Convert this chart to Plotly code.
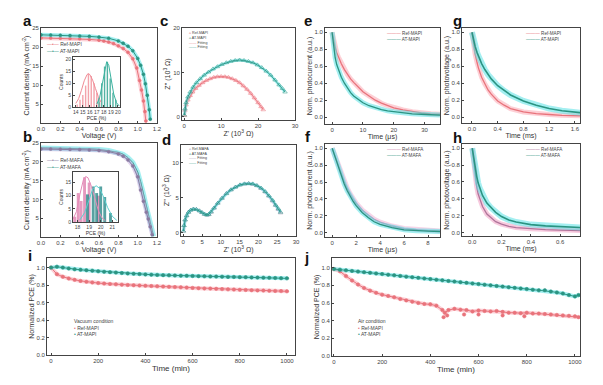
import plotly.graph_objects as go

W, H = 603, 385
def fx(p): return p / W
def fy(p): return 1 - p / H

# ---------------- data ----------------
# (a) J-V MAPI
a_ref_v = [0, 0.1, 0.2, 0.3, 0.4, 0.5, 0.6, 0.65, 0.7, 0.75, 0.8, 0.85, 0.9, 0.95, 0.99, 1.02, 1.04, 1.06, 1.075, 1.085]
a_ref_j = [22.4, 22.35, 22.3, 22.25, 22.15, 22.0, 21.8, 21.6, 21.3, 20.9, 20.3, 19.6, 18.6, 16.9, 14.5, 11.2, 8.7, 5.8, 3.0, 0.5]
a_at_v = [0, 0.1, 0.2, 0.3, 0.4, 0.5, 0.6, 0.7, 0.8, 0.85, 0.9, 0.95, 1.0, 1.03, 1.06, 1.08, 1.1, 1.12, 1.13]
a_at_j = [23.2, 23.15, 23.1, 23.0, 22.9, 22.8, 22.6, 22.3, 21.6, 21.0, 20.2, 19.0, 17.0, 15.2, 12.8, 10.3, 7.3, 3.5, 1.0]
# inset a histogram
ia_ref_x = [14.2, 14.6, 15.0, 15.4, 15.8, 16.2, 16.6, 17.0, 17.4]
ia_ref_n = [1, 3, 5, 9, 14, 13, 10, 6, 2]
ia_at_x = [17.3, 17.7, 18.1, 18.5, 18.9, 19.3, 19.7]
ia_at_n = [4, 10, 17, 19, 12, 6, 3]
ia_ref_fx = [14.0, 14.4, 14.8, 15.2, 15.6, 15.8, 16.0, 16.4, 16.8, 17.2, 17.6]
ia_ref_fy = [1.5, 3.5, 7.0, 11.0, 13.6, 14.0, 13.6, 11.3, 7.8, 4.4, 2.0]
ia_at_fx = [17.0, 17.4, 17.8, 18.1, 18.4, 18.7, 19.0, 19.4, 19.8, 20.2]
ia_at_fy = [1.2, 4.0, 10.0, 15.5, 19.0, 17.5, 12.5, 5.5, 1.8, 0.4]

# (b) J-V MAFA
b_v = [0, 0.1, 0.2, 0.3, 0.4, 0.5, 0.6, 0.7, 0.8, 0.85, 0.9, 0.95, 1.0, 1.03, 1.06, 1.09, 1.11, 1.13, 1.15]
b_ref_j = [23.4, 23.38, 23.35, 23.3, 23.25, 23.15, 23.0, 22.7, 22.1, 21.5, 20.5, 18.9, 16.0, 12.5, 9.5, 6.6, 4.8, 2.7, 0.6]
b_at_v = [0, 0.1, 0.2, 0.3, 0.4, 0.5, 0.6, 0.7, 0.8, 0.85, 0.9, 0.95, 1.0, 1.03, 1.06, 1.09, 1.11, 1.13, 1.15, 1.165]
b_at_j = [23.7, 23.68, 23.65, 23.6, 23.55, 23.45, 23.3, 23.0, 22.5, 22.0, 21.1, 19.8, 17.3, 14.8, 11.5, 8.0, 5.6, 3.4, 1.3, 0.2]
ib_ref_x = [17.75, 18.05, 18.3, 18.6, 19.0, 19.8]
ib_ref_n = [2, 11, 8, 17, 15, 10]
ib_at_x = [18.85, 19.35, 19.65, 20.0, 20.35, 20.85]
ib_at_n = [10.5, 13.5, 11, 13.5, 9.5, 3.4]
ib_ref_fx = [17.6, 17.9, 18.2, 18.5, 18.7, 18.9, 19.2, 19.5, 19.8, 20.1, 20.4]
ib_ref_fy = [1.0, 4.0, 10.5, 16.0, 17.3, 16.8, 13.5, 8.5, 4.3, 1.6, 0.5]
ib_at_fx = [18.2, 18.6, 19.0, 19.3, 19.6, 19.9, 20.2, 20.6, 21.0, 21.4]
ib_at_fy = [0.8, 3.5, 8.5, 12.5, 13.8, 12.8, 10.0, 5.5, 2.2, 0.6]

# (c) Nyquist MAPI
c_ref_x = [0.05, 0.2, 0.5, 1.0, 1.6, 2.3, 3.1, 4.0, 5.0, 6.0, 7.0, 8.0, 9.0, 10.0, 11.0, 12.0, 13.0, 14.0, 15.0, 16.0, 17.0, 18.0, 19.0, 20.0, 20.8, 21.4]
c_ref_y = [0.3, 1.5, 2.7, 3.8, 4.8, 5.6, 6.4, 7.1, 7.7, 8.2, 8.6, 8.9, 9.05, 9.1, 9.05, 8.9, 8.6, 8.2, 7.7, 7.0, 6.2, 5.3, 4.3, 3.2, 2.3, 1.6]
c_at_x = [0.05, 0.2, 0.5, 1.0, 1.6, 2.4, 3.3, 4.3, 5.4, 6.6, 7.8, 9.0, 10.2, 11.4, 12.6, 13.8, 15.0, 16.2, 17.4, 18.6, 19.8, 21.0, 22.2, 23.4, 24.6, 25.7, 26.6, 27.3]
c_at_y = [0.4, 1.8, 3.2, 4.5, 5.6, 6.7, 7.7, 8.6, 9.4, 10.1, 10.8, 11.3, 11.8, 12.2, 12.5, 12.7, 12.8, 12.7, 12.5, 12.2, 11.7, 11.1, 10.3, 9.4, 8.3, 7.2, 6.4, 5.6]

# (d) Nyquist MAFA
d_x = [0.05, 0.2, 0.5, 0.9, 1.4, 2.0, 2.7, 3.5, 4.3, 5.0, 5.7, 6.3, 6.8, 7.4, 8.2, 9.2, 10.3, 11.5, 12.7, 13.9, 15.1, 16.3, 17.4, 18.5, 19.6, 20.7, 21.8, 22.8, 23.8, 24.6, 25.3, 25.9]
d_ref_y = [0.2, 1.0, 1.8, 2.4, 2.9, 3.2, 3.35, 3.3, 3.1, 2.85, 2.6, 2.5, 2.55, 2.9, 3.5, 4.2, 4.9, 5.6, 6.1, 6.5, 6.8, 6.95, 7.0, 6.9, 6.7, 6.3, 5.8, 5.2, 4.5, 3.9, 3.3, 2.8]
d_at_y = [0.2, 1.0, 1.8, 2.4, 2.9, 3.2, 3.35, 3.3, 3.1, 2.85, 2.6, 2.5, 2.6, 2.95, 3.5, 4.2, 4.9, 5.55, 6.1, 6.5, 6.8, 6.95, 7.0, 6.95, 6.7, 6.35, 5.85, 5.25, 4.6, 3.9, 3.4, 2.9]

# (e) TPC MAPI
e_t = [0, 0.5, 1, 1.5, 2, 3, 4, 5, 6, 7, 8, 10, 12, 14, 16, 18, 20, 23, 26, 29, 32, 35]
e_ref = [1.0, 0.9, 0.82, 0.76, 0.71, 0.63, 0.56, 0.5, 0.45, 0.41, 0.37, 0.3, 0.25, 0.2, 0.165, 0.135, 0.11, 0.085, 0.065, 0.05, 0.04, 0.035]
e_at = [1.0, 0.82, 0.7, 0.62, 0.56, 0.47, 0.4, 0.34, 0.29, 0.25, 0.22, 0.17, 0.135, 0.11, 0.09, 0.075, 0.065, 0.05, 0.04, 0.035, 0.03, 0.025]

# (f) TPC MAFA
f_t = [0, 0.25, 0.5, 0.75, 1.0, 1.25, 1.5, 1.75, 2.0, 2.5, 3.0, 3.5, 4.0, 4.5, 5, 6, 7, 8, 9]
f_ref = [1.0, 0.9, 0.8, 0.7, 0.61, 0.53, 0.46, 0.4, 0.35, 0.27, 0.21, 0.16, 0.125, 0.1, 0.08, 0.05, 0.035, 0.025, 0.02]
f_at = [1.0, 0.89, 0.78, 0.68, 0.58, 0.5, 0.43, 0.37, 0.32, 0.24, 0.18, 0.13, 0.1, 0.08, 0.06, 0.035, 0.025, 0.02, 0.015]

# (g) TPV MAPI
g_t = [0, 0.02, 0.05, 0.08, 0.1, 0.15, 0.2, 0.25, 0.3, 0.4, 0.5, 0.6, 0.8, 1.0, 1.2, 1.4, 1.7]
g_ref = [1.0, 0.88, 0.74, 0.64, 0.58, 0.47, 0.39, 0.32, 0.27, 0.19, 0.14, 0.1, 0.06, 0.04, 0.03, 0.02, 0.015]
g_at = [1.0, 0.92, 0.83, 0.76, 0.72, 0.63, 0.56, 0.5, 0.45, 0.37, 0.31, 0.26, 0.19, 0.14, 0.1, 0.075, 0.05]

# (h) TPV MAFA
h_t = [0, 0.01, 0.02, 0.03, 0.04, 0.05, 0.07, 0.1, 0.13, 0.16, 0.2, 0.25, 0.3, 0.4, 0.5, 0.6, 0.74]
h_ref = [1.0, 0.82, 0.66, 0.55, 0.46, 0.4, 0.31, 0.22, 0.17, 0.13, 0.1, 0.075, 0.06, 0.045, 0.035, 0.03, 0.025]
h_at = [1.0, 0.87, 0.76, 0.67, 0.59, 0.53, 0.44, 0.35, 0.29, 0.24, 0.19, 0.15, 0.125, 0.095, 0.08, 0.07, 0.06]

# (i) stability, vacuum
ij_t = [0, 25, 50, 75, 100, 125, 150, 175, 200, 225, 250, 275, 300, 325, 350, 375, 400, 425, 450, 475, 500,
        525, 550, 575, 600, 625, 650, 675, 700, 725, 750, 775, 800, 825, 850, 875, 900, 925, 950, 975, 1000]
i_at = [1.0, 1.01, 1.0, 0.99, 0.98, 0.975, 0.97, 0.965, 0.958, 0.952, 0.948, 0.943, 0.938, 0.934, 0.93, 0.926, 0.922, 0.919, 0.916, 0.914, 0.912,
        0.91, 0.908, 0.906, 0.904, 0.902, 0.9, 0.898, 0.897, 0.896, 0.894, 0.893, 0.891, 0.89, 0.888, 0.886, 0.885, 0.883, 0.881, 0.879, 0.877]
i_ref = [1.0, 0.925, 0.895, 0.875, 0.86, 0.848, 0.838, 0.83, 0.823, 0.818, 0.813, 0.809, 0.805, 0.801, 0.798, 0.795, 0.792, 0.789, 0.786, 0.783, 0.78,
         0.777, 0.774, 0.771, 0.768, 0.765, 0.762, 0.76, 0.757, 0.754, 0.751, 0.749, 0.746, 0.744, 0.741, 0.739, 0.737, 0.735, 0.733, 0.731, 0.729]

# (j) stability, air
j_t = [0, 25, 50, 75, 100, 125, 150, 175, 200, 225, 250, 275, 300, 325, 350, 375, 400, 425, 450, 460, 475, 500,
       525, 550, 575, 600, 625, 650, 675, 700, 725, 750, 775, 800, 825, 850, 875, 900, 925, 950, 975, 1000, 1015]
j_ref = [0.985, 0.96, 0.905, 0.855, 0.81, 0.77, 0.74, 0.715, 0.695, 0.68, 0.665, 0.645, 0.63, 0.615, 0.6, 0.59, 0.585, 0.57, 0.52, 0.49, 0.52, 0.535,
         0.525, 0.52, 0.505, 0.515, 0.51, 0.505, 0.51, 0.5, 0.49, 0.49, 0.485, 0.49, 0.48, 0.48, 0.475, 0.47, 0.465, 0.46, 0.455, 0.45, 0.44]
j_ref_out_t = [455, 470, 540, 600, 700, 790]
j_ref_out = [0.44, 0.46, 0.47, 0.47, 0.46, 0.45]
j_at_t = [0, 25, 50, 75, 100, 125, 150, 175, 200, 225, 250, 275, 300, 325, 350, 375, 400, 425, 450, 475, 500,
          525, 550, 575, 600, 625, 650, 675, 700, 725, 750, 775, 800, 825, 850, 875, 900, 925, 950, 975, 1000, 1015]
j_at = [0.985, 0.978, 0.97, 0.963, 0.956, 0.949, 0.942, 0.935, 0.928, 0.921, 0.914, 0.907, 0.899, 0.892, 0.885, 0.878, 0.871, 0.864, 0.857, 0.85, 0.843,
        0.836, 0.829, 0.822, 0.815, 0.808, 0.8, 0.793, 0.786, 0.779, 0.772, 0.765, 0.758, 0.751, 0.744, 0.745, 0.73, 0.72, 0.708, 0.69, 0.675, 0.69]

# ---------------- styling ----------------
PINK = "#e8737b"
PINK_L = "rgba(250,150,165,0.45)"
TEAL = "#2a9482"
TEAL_L = "rgba(90,225,230,0.55)"
PURP = "#8a7aa0"
MAG = "#cf86ae"
FONT = "Liberation Sans"

fig = go.Figure()

def ref(ax):
    return ("x" if ax == 1 else f"x{ax}", "y" if ax == 1 else f"y{ax}")

def add(x, y, ax, color, mode="lines", width=1.2, halo=None, hw=5, msize=3, symbol="circle", mcolor=None):
    xa, ya = ref(ax)
    if halo:
        fig.add_trace(go.Scatter(x=x, y=y, xaxis=xa, yaxis=ya, mode="lines",
                                 line=dict(color=halo, width=hw), hoverinfo="skip", showlegend=False))
    fig.add_trace(go.Scatter(x=x, y=y, xaxis=xa, yaxis=ya, mode=mode,
                             line=dict(color=color, width=width),
                             marker=dict(size=msize, color=mcolor or color, symbol=symbol,
                                         line=dict(width=0.5, color=color)),
                             showlegend=False))

def bars(x, n, ax, color, width):
    xa, ya = ref(ax)
    fig.add_trace(go.Bar(x=x, y=n, xaxis=xa, yaxis=ya, width=width, marker=dict(color=color, line=dict(width=0)),
                         showlegend=False))

# a
add(a_ref_v, a_ref_j, 1, PINK, "lines+markers", 1.0, PINK_L, 4, 3)
add(a_at_v, a_at_j, 1, TEAL, "lines+markers", 1.0, TEAL_L, 4, 3)
bars(ia_ref_x, ia_ref_n, 11, "rgba(240,140,150,0.8)", 0.2)
bars(ia_at_x, ia_at_n, 11, "rgba(40,160,140,0.8)", 0.2)
add(ia_ref_fx, ia_ref_fy, 11, "#f08b95", "lines", 1.0)
add(ia_at_fx, ia_at_fy, 11, "#3ab3a0", "lines", 1.0)
# b
add(b_at_v, b_at_j, 2, TEAL, "lines", 1.0, TEAL_L, 5)
add(b_v, b_ref_j, 2, PURP, "lines+markers", 1.0, "rgba(200,170,220,0.5)", 4, 3)
bars(ib_ref_x, ib_ref_n, 12, "rgba(220,120,170,0.75)", 0.25)
bars(ib_at_x, ib_at_n, 12, "rgba(30,130,130,0.75)", 0.25)
add(ib_ref_fx, ib_ref_fy, 12, "#e58ab8", "lines", 1.0)
add(ib_at_fx, ib_at_fy, 12, "#5ad0d0", "lines", 1.0)
# c
add(c_ref_x, c_ref_y, 3, PINK, "lines+markers", 0.9, PINK_L, 3, 4, "triangle-up-open")
add(c_at_x, c_at_y, 3, TEAL, "lines+markers", 0.9, TEAL_L, 3, 4, "triangle-up-open")
# d
add(d_x, d_ref_y, 4, "#9a8fb0", "lines+markers", 0.9, "rgba(200,170,220,0.5)", 3, 4, "triangle-up-open")
add(d_x, d_at_y, 4, TEAL, "lines+markers", 0.9, TEAL_L, 3, 4, "triangle-up-open")
# e
add(e_t, e_ref, 5, PINK, "lines", 1.3, PINK_L, 5)
add(e_t, e_at, 5, TEAL, "lines", 1.3, TEAL_L, 5)
# f
add(f_t, f_ref, 6, MAG, "lines", 1.3, "rgba(240,170,210,0.5)", 5)
add(f_t, f_at, 6, TEAL, "lines", 1.3, TEAL_L, 5)
# g
add(g_t, g_ref, 7, PINK, "lines", 1.3, PINK_L, 5)
add(g_t, g_at, 7, TEAL, "lines", 1.6, TEAL_L, 6)
# h
add(h_t, h_ref, 8, "#b0749a", "lines", 1.3, "rgba(240,150,190,0.5)", 5)
add(h_t, h_at, 8, TEAL, "lines", 1.6, TEAL_L, 6)
# i
add(ij_t, i_ref, 9, PINK, "lines+markers", 1.0, PINK_L, 4, 3.5)
add(ij_t, i_at, 9, TEAL, "lines+markers", 1.0, TEAL_L, 4, 3.5)
# j
add(j_t, j_ref, 10, PINK, "lines+markers", 1.0, PINK_L, 4, 3.5)
add(j_ref_out_t, j_ref_out, 10, PINK, "markers", 1.0, None, 4, 3.5)
add(j_at_t, j_at, 10, TEAL, "lines+markers", 1.0, TEAL_L, 4, 3.5)

layout = dict(width=W, height=H, margin=dict(l=0, r=0, t=0, b=0), paper_bgcolor="white",
              plot_bgcolor="white", barmode="overlay", showlegend=False,
              font=dict(family=FONT, color="#333"))

def axes(n, xpx, ypx, xr, yr, xtv, ytv, xtitle, ytitle, xfmt=None, yfmt=None, fs=6, ts=7, xts=None):
    sx = "xaxis" if n == 1 else f"xaxis{n}"
    sy = "yaxis" if n == 1 else f"yaxis{n}"
    ax_x, ax_y = ref(n)
    common = dict(showline=True, linecolor="#444", linewidth=0.8, mirror=True, ticks="inside",
                  ticklen=2, tickwidth=0.6, tickcolor="#444", showgrid=False, zeroline=False,
                  tickangle=0, automargin=False,
                  tickfont=dict(size=fs, color="#444", family=FONT))
    layout[sx] = dict(domain=[fx(xpx[0]), fx(xpx[1])], range=xr, anchor=ax_y, tickvals=xtv,
                      tickformat=xfmt, title=dict(text=xtitle, font=dict(size=xts or ts, family=FONT), standoff=1),
                      **common)
    layout[sy] = dict(domain=[fy(ypx[1]), fy(ypx[0])], range=yr, anchor=ax_x, tickvals=ytv,
                      tickformat=yfmt, title=dict(text=ytitle, font=dict(size=ts, family=FONT), standoff=1),
                      **common)

jv_xt = [0, 0.2, 0.4, 0.6, 0.8, 1.0, 1.2]
jv_yt = [5, 10, 15, 20, 25]
decay_yt = [0, 0.2, 0.4, 0.6, 0.8, 1.0]
stab_xt = [0, 200, 400, 600, 800, 1000]

axes(1, (41, 157), (28, 123), [0, 1.2], [0, 25], jv_xt, jv_yt, "Voltage (V)", "Current density (mA cm<sup>-2</sup>)", ".1f")
axes(2, (41, 157), (143, 237), [0, 1.2], [0, 25], jv_xt, jv_yt, "Voltage (V)", "Current density (mA cm<sup>-2</sup>)", ".1f")
axes(3, (182, 295), (28, 120), [-0.6, 30], [-0.7, 20], [0, 10, 20, 30], [0, 10, 20], "Z' (10<sup>3</sup> Ω)", "Z'' (10<sup>3</sup> Ω)")
axes(4, (181, 296), (145, 236), [-0.6, 30], [-0.5, 12.5], [0, 5, 10, 15, 20, 25, 30], [0, 5, 10], "Z' (10<sup>3</sup> Ω)", "Z'' (10<sup>3</sup> Ω)")
axes(5, (325, 440), (28, 124), [-2.3, 35], [-0.08, 1.05], [0, 10, 20, 30], decay_yt, "Time (μs)", "Norm. photocurrent (a.u.)", None, ".1f")
axes(6, (325, 440), (144, 237), [-0.6, 9], [-0.05, 1.05], [0, 2, 4, 6, 8], decay_yt, "Time (μs)", "Norm. photocurrent (a.u.)", None, ".1f")
axes(7, (462, 580), (28, 123), [-0.155, 1.68], [-0.07, 1.05], [0, 0.4, 0.8, 1.2, 1.6], decay_yt, "Time (ms)", "Norm. photovoltage (a.u.)", ".1f", ".1f")
axes(8, (462, 580), (144, 236), [-0.07, 0.736], [-0.04, 1.05], [0, 0.2, 0.4, 0.6], decay_yt, "Time (ms)", "Norm. photovoltage (a.u.)", ".1f", ".1f")
axes(9, (47, 295), (258, 355), [-17, 1034], [0, 1.11], stab_xt, decay_yt, "Time (min)", "Normalized PCE (%)", None, ".1f", xts=8)
axes(10, (332, 580), (258, 356), [-8, 1021], [0, 1.11], stab_xt, decay_yt, "Time (min)", "Normalized PCE (%)", None, ".1f", xts=8)
axes(11, (73, 120), (57, 107), [13.6, 20.3], [0, 21], [14, 15, 16, 17, 18, 19, 20], [0, 5, 10, 15, 20], "PCE (%)", "Counts", fs=5, ts=5)
axes(12, (73, 118), (172, 222), [17.6, 21.5], [0, 19], [18, 19, 20, 21], [0, 5, 10, 15], "PCE (%)", "Counts", fs=5, ts=5)

fig.update_layout(**layout)

# panel letters
letters = [("a", 28, 20), ("b", 28, 136), ("c", 164, 20), ("d", 166, 139), ("e", 308, 20),
           ("f", 308, 136), ("g", 457, 20), ("h", 457, 137), ("i", 30, 255), ("j", 306, 257)]
for t, x, y in letters:
    fig.add_annotation(text=f"<b>{t}</b>", x=fx(x), y=fy(y), xref="paper", yref="paper",
                       showarrow=False, xanchor="center", yanchor="middle", borderpad=0,
                       font=dict(size=15, family=FONT, color="#111"))

def leg(items, x, ytop, size=5, title=None):
    lines = [title] if title else []
    for glyph, color, label in items:
        lines.append(f"<span style='color:{color}'>{glyph}</span> {label}")
    fig.add_annotation(text="<br>".join(lines), x=fx(x), y=fy(ytop), xref="paper", yref="paper",
                       showarrow=False, xanchor="left", yanchor="top", align="left", borderpad=0,
                       font=dict(size=size, family=FONT, color="#444"))

leg([("—•—", PINK, "Ref-MAPI"), ("—•—", TEAL, "AT-MAPI")], 46, 40, 5)
leg([("—•—", PURP, "Ref-MAFA"), ("—•—", TEAL, "AT-MAFA")], 46, 156, 5)
leg([("▵", PINK, "Ref-MAPI"), ("▵", TEAL, "AT-MAPI"), ("——", PINK, "Fitting"), ("——", TEAL, "Fitting")], 188, 30.5, 3.7)
leg([("▵", "#9a8fb0", "Ref-MAFA"), ("▵", TEAL, "AT-MAFA"), ("——", "#9a8fb0", "Fitting"), ("——", TEAL, "Fitting")], 188, 146.5, 3.6)
leg([("———", PINK, "Ref-MAPI"), ("———", TEAL, "AT-MAPI")], 386, 30, 4.6)
leg([("———", MAG, "Ref-MAFA"), ("———", TEAL, "AT-MAFA")], 386, 146, 4.6)
leg([("———", PINK, "Ref-MAPI"), ("———", TEAL, "AT-MAPI")], 525, 30, 4.6)
leg([("———", "#b0749a", "Ref-MAFA"), ("———", TEAL, "AT-MAFA")], 525, 146, 4.6)
leg([("•", PINK, "Ref-MAPI"), ("•", TEAL, "AT-MAPI")], 73, 316.5, 5, "Vacuum condition")
leg([("•", PINK, "Ref-MAPI"), ("•", TEAL, "AT-MAPI")], 357, 316.5, 5, "Air condition")

fig.write_html("out.html", config={"displayModeBar": False},
               post_script="document.body.style.margin='0px';document.body.style.overflow='hidden';")
